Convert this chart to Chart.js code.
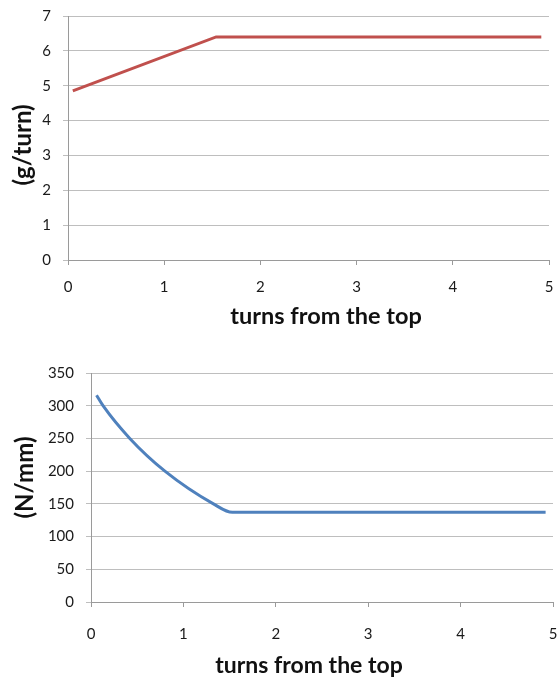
<!DOCTYPE html>
<html>
<head>
<meta charset="utf-8">
<script src="https://cdn.jsdelivr.net/npm/chart.js@4/dist/chart.umd.min.js"></script>
<style>
  html, body { margin: 0; padding: 0; background: #fff; }
  #wrap { position: relative; width: 558px; height: 678px; overflow: hidden; }
  #c1 { position: absolute; left: 0; top: 0; }
  #c2 { position: absolute; left: 0; top: 340px; }
</style>
</head>
<body>
<div id="wrap">
  <canvas id="c1" width="558" height="340"></canvas>
  <canvas id="c2" width="558" height="338"></canvas>
</div>
<script>
// ---- data ----
const xTickLabels = [0, 1, 2, 3, 4, 5];
const massTurns = [0.05, 1.54, 4.92];
const massValues = [4.85, 6.4, 6.4];           // g/turn
const stiffTurns = [0.06, 0.13, 0.42, 0.8, 1.325, 1.53, 4.92];
const stiffValues = [316, 300, 250, 200, 150, 137, 137]; // N/mm
const xTitle = 'turns from the top';
const yTitle1 = '(g/turn)';
const yTitle2 = '(N/mm)';

const FONT = 'Lato, "Open Sans", "DejaVu Sans", sans-serif';
const GRID = '#BEBEBE';
const AXIS = '#9A9A9A';

function toPoints(xs, ys) { return xs.map((x, i) => ({ x: x, y: ys[i] })); }

// Draws the axis titles (text) where the original places them.
const axisTitles = {
  id: 'axisTitles',
  afterDraw(chart, args, o) {
    const ctx = chart.ctx;
    ctx.save();
    ctx.fillStyle = '#111';
    ctx.textAlign = 'center';
    ctx.textBaseline = 'alphabetic';
    ctx.font = 'bold ' + o.xSize + 'px ' + FONT;
    ctx.fillText(o.xText, o.xX, o.xY);
    ctx.translate(o.yX, o.yY);
    ctx.rotate(-Math.PI / 2);
    ctx.textBaseline = 'middle';
    ctx.font = 'bold ' + o.ySize + 'px ' + FONT;
    ctx.fillText(o.yText, 0, 0);
    ctx.restore();
  }
};

function makeChart(id, pts, color, yMax, yStep, titles, cfg) {
  return new Chart(document.getElementById(id), {
    type: 'line',
    data: {
      datasets: [{
        data: pts,
        borderColor: color,
        borderWidth: 3,
        pointRadius: 0,
        tension: cfg.tension,
        cubicInterpolationMode: cfg.cim,
        fill: false
      }]
    },
    plugins: [axisTitles],
    options: {
      responsive: false,
      animation: false,
      events: [],
      layout: { padding: cfg.padding },
      plugins: { legend: { display: false }, tooltip: { enabled: false }, axisTitles: titles },
      scales: {
        x: {
          type: 'linear', min: 0, max: 5,
          afterBuildTicks: (s) => { s.ticks = xTickLabels.map(v => ({ value: v })); },
          afterFit: (s) => { s.height = cfg.xHeight; s.paddingLeft = 0; s.paddingRight = 0; },
          ticks: { color: '#1a1a1a', font: { family: FONT, size: 15 }, padding: cfg.xTickPad, maxRotation: 0 },
          grid: { drawOnChartArea: false, drawTicks: true, tickLength: 5, color: AXIS },
          border: { display: true, color: AXIS, width: 1 },
          title: { display: false }
        },
        y: {
          type: 'linear', min: 0, max: yMax,
          ticks: { stepSize: yStep, color: '#1a1a1a', font: { family: FONT, size: 15 }, padding: cfg.yTickPad },
          afterFit: (s) => { s.width = cfg.yWidth; s.paddingTop = 0; s.paddingBottom = 0; },
          grid: { color: GRID, lineWidth: 1, drawTicks: true, tickLength: 5 },
          border: { display: true, color: AXIS, width: 1 },
          title: { display: false }
        }
      }
    }
  });
}

makeChart('c1', toPoints(massTurns, massValues), '#C0504D', 7, 1,
  { xText: xTitle, xSize: 23.5, xX: 326, xY: 324, yText: yTitle1, ySize: 24, yX: 23, yY: 145 },
  { tension: 0, cim: 'default',
    padding: { top: 16, right: 9, left: 0, bottom: 0 },
    xHeight: 80, yWidth: 68, xTickPad: 13, yTickPad: 12 });

makeChart('c2', toPoints(stiffTurns, stiffValues), '#4F81BD', 350, 50,
  { xText: xTitle, xSize: 23, xX: 309, xY: 333, yText: yTitle2, ySize: 24, yX: 25, yY: 137.5 },
  { tension: 0.4, cim: 'monotone',
    padding: { top: 33, right: 5, left: 0, bottom: 0 },
    xHeight: 76, yWidth: 91, xTickPad: 18, yTickPad: 12 });
</script>
</body>
</html>
